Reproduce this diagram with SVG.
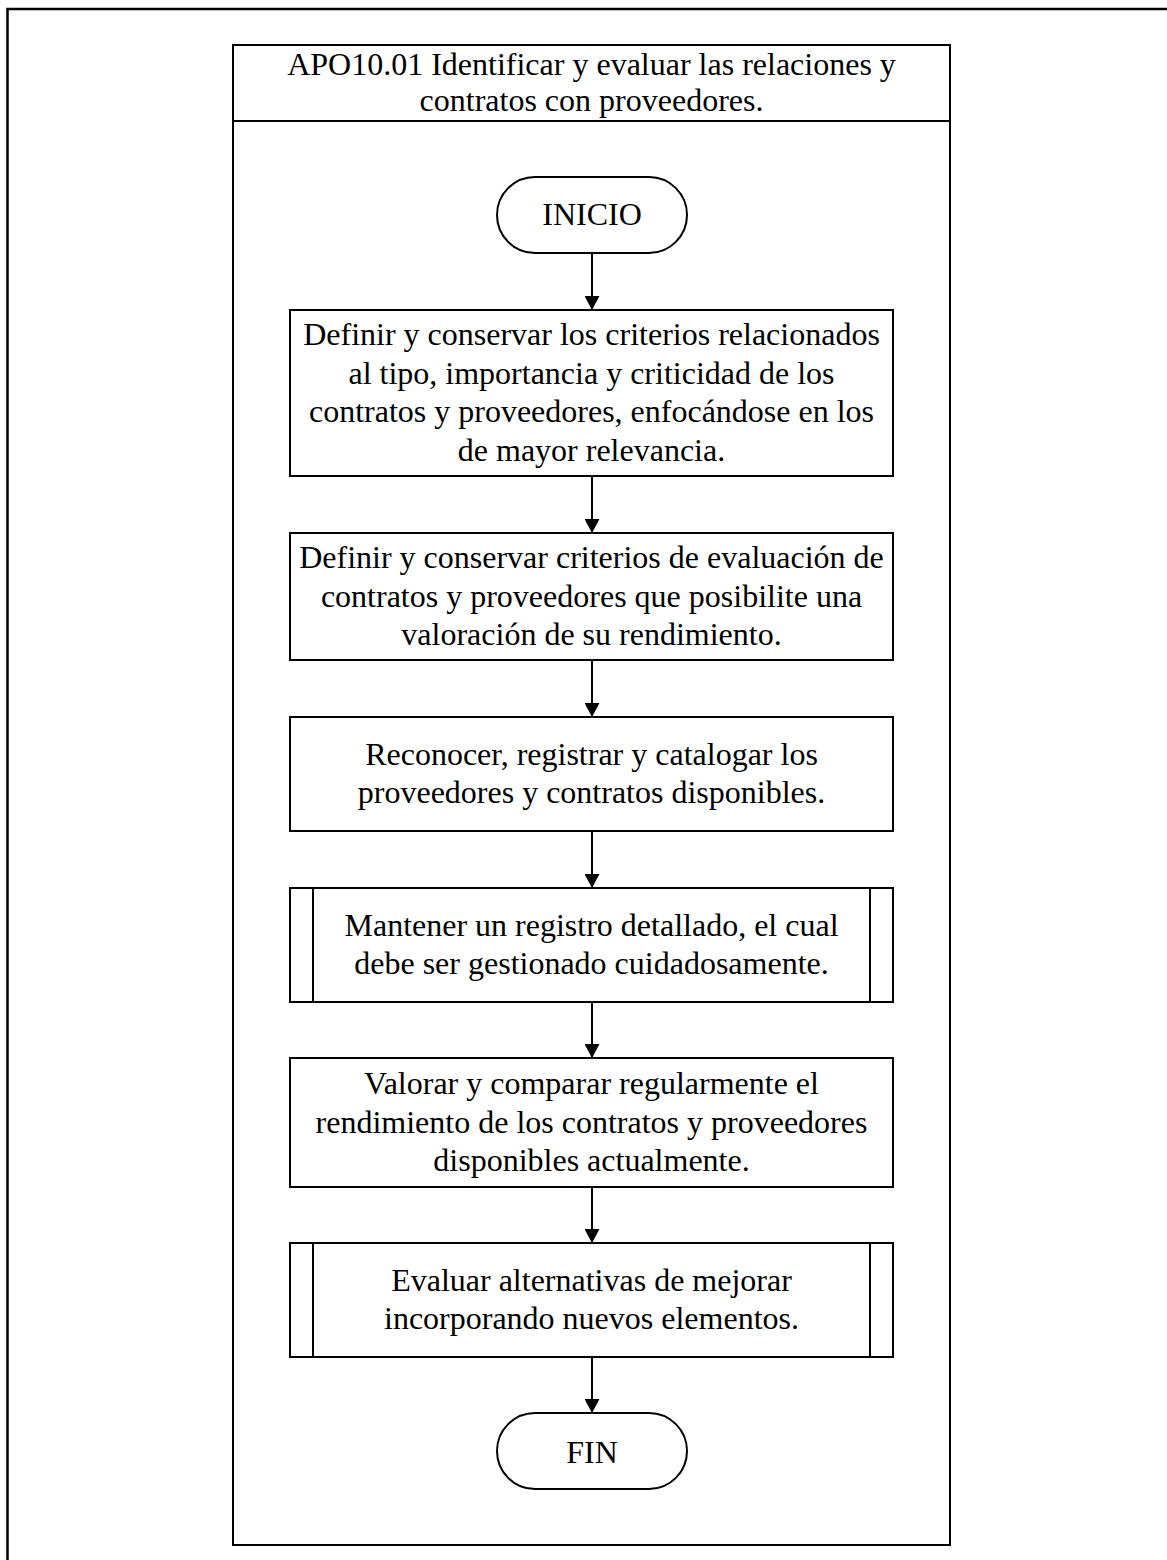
<svg xmlns="http://www.w3.org/2000/svg" width="1167" height="1560" viewBox="0 0 1167 1560">
  <style>
    .frame { fill: none; stroke: #000; stroke-width: 2.5; }
    .box { fill: #fff; stroke: #000; stroke-width: 2; }
    .line { fill: none; stroke: #000; stroke-width: 2; }
    .txt { font-family: "Liberation Serif", "Times New Roman", serif; font-size: 32px; fill: #000; text-anchor: middle; }
  </style>
  <defs>
    <marker id="arrow" viewBox="0 0 14 15" refX="14" refY="7.5" markerWidth="14" markerHeight="15" markerUnits="userSpaceOnUse" orient="auto">
      <path d="M0,0 L14,7.5 L0,15 Z" fill="#000"/>
    </marker>
  </defs>

  <rect width="1167" height="1560" fill="#fff"/>

  <!-- page frame -->
  <rect class="frame" x="7.5" y="9" width="1170" height="1570"/>

  <!-- swimlane with its title -->
  <g id="lane">
    <rect class="box" x="233" y="45" width="717" height="1500"/>
    <line class="line" x1="233" y1="121" x2="950" y2="121"/>
    <text class="txt" x="591.5" y="75">APO10.01 Identificar y evaluar las relaciones y</text>
    <text class="txt" x="591.5" y="111">contratos con proveedores.</text>
  </g>

  <!-- connectors -->
  <g id="connectors">
    <line class="line" x1="592" y1="253" x2="592" y2="310" marker-end="url(#arrow)"/>
    <line class="line" x1="592" y1="476" x2="592" y2="533" marker-end="url(#arrow)"/>
    <line class="line" x1="592" y1="660" x2="592" y2="717" marker-end="url(#arrow)"/>
    <line class="line" x1="592" y1="831" x2="592" y2="888" marker-end="url(#arrow)"/>
    <line class="line" x1="592" y1="1002" x2="592" y2="1058" marker-end="url(#arrow)"/>
    <line class="line" x1="592" y1="1187" x2="592" y2="1243" marker-end="url(#arrow)"/>
    <line class="line" x1="592" y1="1357" x2="592" y2="1413" marker-end="url(#arrow)"/>
  </g>

  <g id="inicio">
    <rect class="box" x="497" y="177" width="190" height="76" rx="38" ry="38"/>
    <text class="txt" x="592" y="225">INICIO</text>
  </g>

  <g id="paso1">
    <rect class="box" x="290" y="310" width="603" height="166"/>
    <text class="txt" x="591.5" y="345">Definir y conservar los criterios relacionados</text>
    <text class="txt" x="591.5" y="384">al tipo, importancia y criticidad de los</text>
    <text class="txt" x="591.5" y="422">contratos y proveedores, enfocándose en los</text>
    <text class="txt" x="591.5" y="461">de mayor relevancia.</text>
  </g>

  <g id="paso2">
    <rect class="box" x="290" y="533" width="603" height="127"/>
    <text class="txt" x="591.5" y="568">Definir y conservar criterios de evaluación de</text>
    <text class="txt" x="591.5" y="606.5">contratos y proveedores que posibilite una</text>
    <text class="txt" x="591.5" y="645">valoración de su rendimiento.</text>
  </g>

  <g id="paso3">
    <rect class="box" x="290" y="717" width="603" height="114"/>
    <text class="txt" x="591.5" y="765">Reconocer, registrar y catalogar los</text>
    <text class="txt" x="591.5" y="803">proveedores y contratos disponibles.</text>
  </g>

  <g id="paso4">
    <rect class="box" x="290" y="888" width="603" height="114"/>
    <line class="line" x1="313" y1="888" x2="313" y2="1002"/>
    <line class="line" x1="870" y1="888" x2="870" y2="1002"/>
    <text class="txt" x="591.5" y="936">Mantener un registro detallado, el cual</text>
    <text class="txt" x="591.5" y="974">debe ser gestionado cuidadosamente.</text>
  </g>

  <g id="paso5">
    <rect class="box" x="290" y="1058" width="603" height="129"/>
    <text class="txt" x="591.5" y="1094">Valorar y comparar regularmente el</text>
    <text class="txt" x="591.5" y="1132.5">rendimiento de los contratos y proveedores</text>
    <text class="txt" x="591.5" y="1171">disponibles actualmente.</text>
  </g>

  <g id="paso6">
    <rect class="box" x="290" y="1243" width="603" height="114"/>
    <line class="line" x1="313" y1="1243" x2="313" y2="1357"/>
    <line class="line" x1="870" y1="1243" x2="870" y2="1357"/>
    <text class="txt" x="591.5" y="1291">Evaluar alternativas de mejorar</text>
    <text class="txt" x="591.5" y="1329">incorporando nuevos elementos.</text>
  </g>

  <g id="fin">
    <rect class="box" x="497" y="1413" width="190" height="76" rx="38" ry="38"/>
    <text class="txt" x="592" y="1463">FIN</text>
  </g>
</svg>
